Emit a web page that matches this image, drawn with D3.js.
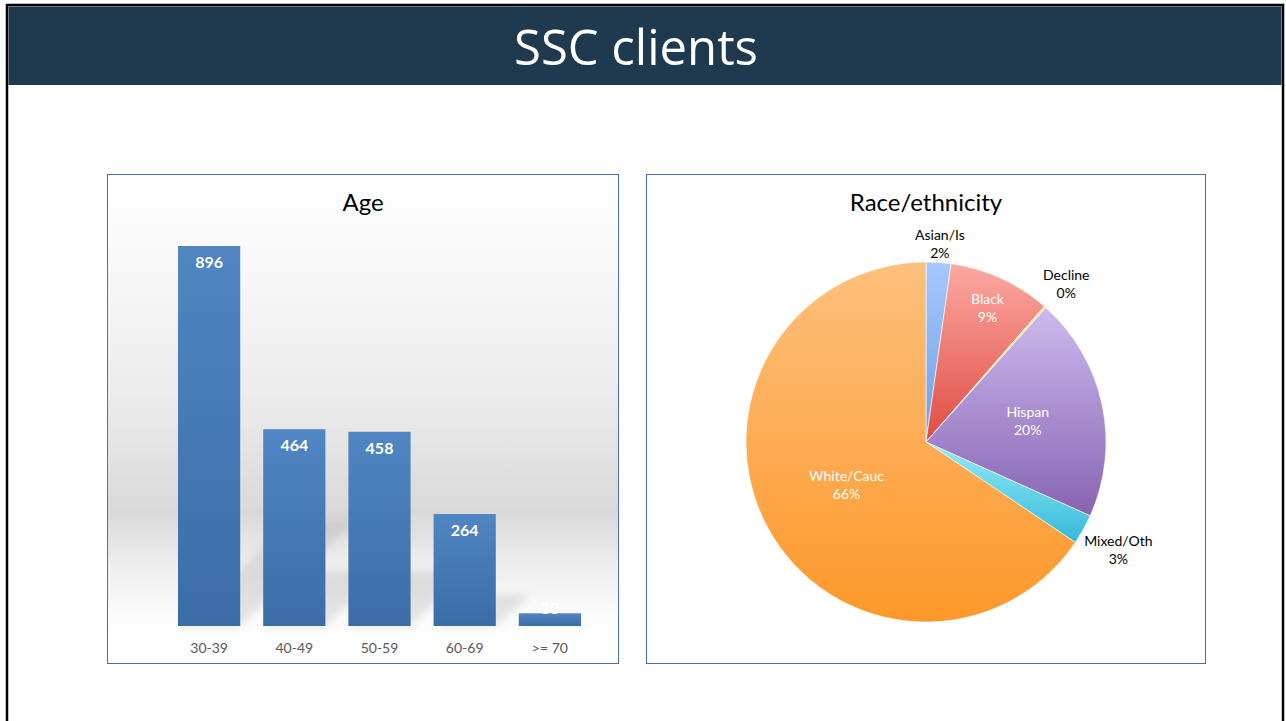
<!DOCTYPE html>
<html lang="en">
<head>
    <meta charset="UTF-8">
    <title>SSC clients</title>
    <style>
        body {
            margin: 0;
            background: #fff;
        }

        svg {
            display: block;
            font-family: Lato, "Open Sans", sans-serif;
        }

        .panel {
            fill: none;
            stroke: #4a6fa6;
            stroke-width: 1;
        }

        .panel-title {
            font-size: 24px;
            text-anchor: middle;
            fill: #000;
        }

        .bar-value {
            font-size: 16px;
            font-weight: bold;
            fill: #fff;
            text-anchor: middle;
        }

        .pie-label {
            font-size: 14px;
            text-anchor: middle;
        }
    </style>
</head>
<body>
<div id="chart"></div>

<script src="https://d3js.org/d3.v7.min.js"></script>
<script>

    // age groups
    var ageGroups = ["30-39", "40-49", "50-59", "60-69", ">= 70"]
    var ageCounts = [896, 464, 458, 264, 30]

    // race / ethnicity (estimated counts)
    var raceGroups = ["Asian/Is", "Black", "Decline", "Hispan", "Mixed/Oth", "White/Cauc"]
    var raceCounts = [47, 194, 4, 425, 57, 1385]

    var width = 1286, height = 721

    var svg = d3.select("#chart").append("svg")
        .attr("width", width)
        .attr("height", height)

    var defs = svg.append("defs")

    // ---- slide frame + header ----
    svg.append("rect")
        .attr("x", 7).attr("y", 5)
        .attr("width", 1276).attr("height", 740)
        .attr("fill", "#fff")
        .attr("stroke", "#000")
        .attr("stroke-width", 2.5)

    svg.append("rect")
        .attr("x", 8.5).attr("y", 6.5)
        .attr("width", 1273).attr("height", 78.5)
        .attr("fill", "#1f394e")

    svg.append("text")
        .attr("x", 636).attr("y", 65)
        .attr("text-anchor", "middle")
        .attr("fill", "#fff")
        .style("font-family", "'Open Sans', sans-serif")
        .style("font-size", "49px")
        .text("SSC clients")

    // ---- bar chart ----
    var barBox = {x: 107.5, y: 174.5, w: 511, h: 489}

    var bg = defs.append("linearGradient")
        .attr("id", "barBg")
        .attr("x1", 0).attr("y1", 0).attr("x2", 0).attr("y2", 1)
    bg.append("stop").attr("offset", "0%").attr("stop-color", "#ffffff")
    bg.append("stop").attr("offset", "12%").attr("stop-color", "#fbfbfb")
    bg.append("stop").attr("offset", "45%").attr("stop-color", "#ececec")
    bg.append("stop").attr("offset", "69%").attr("stop-color", "#d9d9d9")
    bg.append("stop").attr("offset", "80%").attr("stop-color", "#eeeeee")
    bg.append("stop").attr("offset", "90%").attr("stop-color", "#fcfcfc")
    bg.append("stop").attr("offset", "100%").attr("stop-color", "#ffffff")

    svg.append("rect")
        .attr("x", barBox.x).attr("y", barBox.y)
        .attr("width", barBox.w).attr("height", barBox.h)
        .attr("fill", "url(#barBg)")

    var barGrad = defs.append("linearGradient")
        .attr("id", "barFill")
        .attr("x1", 0).attr("y1", 0).attr("x2", 0).attr("y2", 1)
    barGrad.append("stop").attr("offset", "0%").attr("stop-color", "#4f86c3")
    barGrad.append("stop").attr("offset", "100%").attr("stop-color", "#3b6ca7")

    defs.append("filter").attr("id", "blur")
        .attr("x", "-50%").attr("y", "-50%").attr("width", "200%").attr("height", "200%")
        .append("feGaussianBlur").attr("stdDeviation", 4)

    var x = d3.scaleBand()
        .domain(ageGroups)
        .range([166.5, 592.5])
        .paddingInner(0.27)
        .paddingOuter(0.135)

    var y = d3.scaleLinear()
        .domain([0, d3.max(ageCounts)])
        .range([626, 246])

    var ageData = ageGroups.map(function (g, i) {
        return {group: g, value: ageCounts[i]}
    })

    // soft perspective shadows behind the bars
    svg.append("g").selectAll("path")
        .data(ageData)
        .enter().append("path")
        .attr("fill", "#9a9a9a")
        .attr("opacity", 0.25)
        .attr("filter", "url(#blur)")
        .attr("d", function (d) {
            var x0 = x(d.group), x1 = x0 + x.bandwidth()
            var hgt = (y(0) - y(d.value)) * 0.28
            var sh = hgt * 1.1
            return "M" + x0 + "," + y(0) + "L" + (x0 + sh) + "," + (y(0) - hgt) +
                "L" + (x1 + sh) + "," + (y(0) - hgt) + "L" + x1 + "," + y(0) + "Z"
        })

    svg.append("g").selectAll("rect")
        .data(ageData)
        .enter().append("rect")
        .attr("x", function (d) { return x(d.group) })
        .attr("y", function (d) { return y(d.value) })
        .attr("width", x.bandwidth())
        .attr("height", function (d) { return y(0) - y(d.value) })
        .attr("fill", "url(#barFill)")

    svg.append("g").selectAll("text")
        .data(ageData)
        .enter().append("text")
        .attr("class", "bar-value")
        .attr("x", function (d) { return x(d.group) + x.bandwidth() / 2 })
        .attr("y", function (d) {
            // short bars: the label sits centred on the bar top
            return (y(0) - y(d.value) < 30) ? y(d.value) + 1 : y(d.value) + 22
        })
        .text(function (d) { return d.value })

    var xAxis = svg.append("g")
        .attr("transform", "translate(0," + y(0) + ")")
        .call(d3.axisBottom(x).tickSize(0).tickPadding(17))
    xAxis.select(".domain").remove()
    xAxis.selectAll("text")
        .attr("fill", "#595959")
        .style("font-size", "14px")
        .style("font-family", "Lato, 'Open Sans', sans-serif")

    svg.append("text")
        .attr("class", "panel-title")
        .attr("x", 363).attr("y", 211)
        .text("Age")

    svg.append("rect")
        .attr("class", "panel")
        .attr("x", barBox.x).attr("y", barBox.y)
        .attr("width", barBox.w).attr("height", barBox.h)

    // ---- pie chart ----
    var pieBox = {x: 646.5, y: 174.5, w: 559, h: 489}
    var cx = 926, cy = 442, radius = 180

    var sliceColors = {
        "Asian/Is": ["#a6c8ff", "#6f9fe3"],
        "Black": ["#fca9a2", "#de4c42"],
        "Decline": ["#fff08a", "#e8c840"],
        "Hispan": ["#cdbaee", "#8763b3"],
        "Mixed/Oth": ["#95ecfa", "#35b9d8"],
        "White/Cauc": ["#fec07e", "#fd9829"]
    }

    // label placement (radius, and whether it sits inside the slice)
    var labelPlace = {
        "Asian/Is": {r: 199, inside: false},
        "Black": {r: 148, inside: true},
        "Decline": {r: 212, inside: false},
        "Hispan": {r: 104, inside: true},
        "Mixed/Oth": {r: 220, inside: false},
        "White/Cauc": {r: 90, inside: true}
    }

    raceGroups.forEach(function (g, i) {
        var lg = defs.append("linearGradient")
            .attr("id", "slice" + i)
            .attr("x1", 0).attr("y1", 0).attr("x2", 0).attr("y2", 1)
        lg.append("stop").attr("offset", "0%").attr("stop-color", sliceColors[g][0])
        lg.append("stop").attr("offset", "100%").attr("stop-color", sliceColors[g][1])
    })

    var total = d3.sum(raceCounts)
    var raceData = raceGroups.map(function (g, i) {
        return {group: g, value: raceCounts[i], idx: i}
    })

    var pie = d3.pie()
        .sort(null)
        .value(function (d) { return d.value })

    var arc = d3.arc().innerRadius(0).outerRadius(radius)

    var pg = svg.append("g").attr("transform", "translate(" + cx + "," + cy + ")")
    var arcs = pie(raceData)

    pg.selectAll("path")
        .data(arcs)
        .enter().append("path")
        .attr("d", arc)
        .attr("fill", function (d) { return "url(#slice" + d.data.idx + ")" })
        .attr("stroke", "#fff")
        .attr("stroke-width", 0.6)

    var labels = pg.selectAll("text")
        .data(arcs)
        .enter().append("text")
        .attr("class", "pie-label")
        .attr("fill", function (d) { return labelPlace[d.data.group].inside ? "#fff" : "#000" })
        .attr("transform", function (d) {
            var a = (d.startAngle + d.endAngle) / 2
            var r = labelPlace[d.data.group].r
            return "translate(" + (Math.sin(a) * r) + "," + (-Math.cos(a) * r) + ")"
        })

    labels.append("tspan")
        .attr("x", 0).attr("y", -3)
        .text(function (d) { return d.data.group })
    labels.append("tspan")
        .attr("x", 0).attr("y", 15)
        .text(function (d) { return Math.round(d.data.value / total * 100) + "%" })

    svg.append("text")
        .attr("class", "panel-title")
        .attr("x", 926).attr("y", 211)
        .text("Race/ethnicity")

    svg.append("rect")
        .attr("class", "panel")
        .attr("x", pieBox.x).attr("y", pieBox.y)
        .attr("width", pieBox.w).attr("height", pieBox.h)

</script>
</body>
</html>
